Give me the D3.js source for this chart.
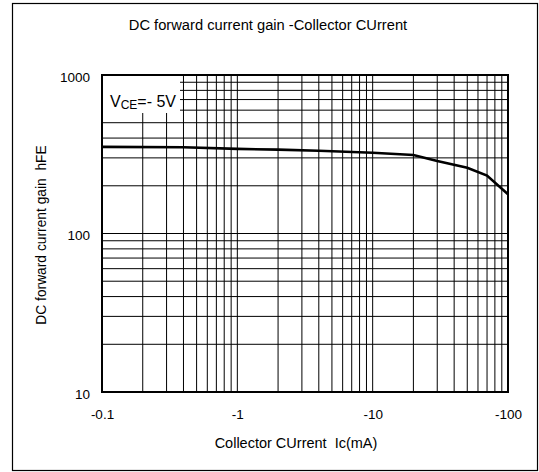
<!DOCTYPE html>
<html>
<head>
<meta charset="utf-8">
<script src="https://cdn.jsdelivr.net/npm/d3@7"></script>
<style>
  body { margin: 0; background: #fff; }
  text { font-family: "Liberation Sans", Arial, sans-serif; fill: #000; }
</style>
</head>
<body>
<svg width="539" height="472"></svg>
<script>
// curve (|Ic| in mA, hFE)
const currents = [0.1, 0.4, 1, 2, 4, 10, 20, 30, 50, 70, 100];
const gains = [352, 350, 342, 338, 333, 323, 313, 287, 260, 232, 177];

const xTicks = [0.1, 1, 10, 100];
const xTickLabels = ["-0.1", "-1", "-10", "-100"];
const yTicks = [10, 100, 1000];

const svg = d3.select("svg"),
    margin = { left: 102, right: 31, top: 75, bottom: 80 },
    width = +svg.attr("width"),
    height = +svg.attr("height");

// outer frame
svg.append("rect")
  .attr("x", 12.5).attr("y", 3.5)
  .attr("width", 525).attr("height", 467)
  .attr("fill", "none").attr("stroke", "#000").attr("stroke-width", 1.2);

const x = d3.scaleLog().domain([0.1, 100]).range([margin.left, width - margin.right]);
const y = d3.scaleLog().domain([10, 1000]).range([height - margin.bottom, margin.top]);

// minor positions 1..9 per decade
const xGrid = d3.range(-1, 2).flatMap(e => d3.range(1, 10).map(m => m * Math.pow(10, e)));
const yGrid = d3.range(1, 3).flatMap(e => d3.range(1, 10).map(m => m * Math.pow(10, e)));

const grid = svg.append("g").attr("stroke", "#000").attr("stroke-width", 1);
grid.selectAll(".vx").data(xGrid.slice(1)).enter().append("line")
  .attr("x1", d => x(d)).attr("x2", d => x(d))
  .attr("y1", y(10)).attr("y2", y(1000));
grid.selectAll(".hy").data(yGrid.slice(1)).enter().append("line")
  .attr("x1", x(0.1)).attr("x2", x(100))
  .attr("y1", d => y(d)).attr("y2", d => y(d));

// plot border
svg.append("rect")
  .attr("x", x(0.1)).attr("y", y(1000))
  .attr("width", x(100) - x(0.1)).attr("height", y(10) - y(1000))
  .attr("fill", "none").attr("stroke", "#000").attr("stroke-width", 2);

// curve
const line = d3.line()
  .x((d, i) => x(currents[i]))
  .y(d => y(d));
svg.append("path")
  .datum(gains)
  .attr("d", line)
  .attr("fill", "none")
  .attr("stroke", "#000")
  .attr("stroke-width", 2.6);

// VCE label box
svg.append("rect")
  .attr("x", x(0.1) + 1).attr("y", y(1000) + 1)
  .attr("width", 77).attr("height", 37)
  .attr("fill", "#fff");
const vce = svg.append("text")
  .attr("x", x(0.1) + 8).attr("y", y(1000) + 31.5)
  .attr("font-size", 16);
vce.append("tspan").text("V");
vce.append("tspan").attr("font-size", 12).attr("dy", 2).text("CE");
vce.append("tspan").attr("dy", -2).text("=- 5V");

// axes (labels only, lines come from the grid/border)
const xAxis = svg.append("g")
  .attr("transform", `translate(0,${y(10)})`)
  .call(d3.axisBottom(x).tickValues(xTicks)
    .tickFormat((d, i) => xTickLabels[i]).tickSize(0).tickPadding(17));
const yAxis = svg.append("g")
  .attr("transform", `translate(${x(0.1)},0)`)
  .call(d3.axisLeft(y).tickValues(yTicks)
    .tickFormat(d3.format("d")).tickSize(0).tickPadding(12));
[xAxis, yAxis].forEach(a => {
  a.select(".domain").remove();
  a.selectAll("text").attr("font-size", 13.5)
    .attr("font-family", "Liberation Sans, Arial, sans-serif");
});
yAxis.selectAll("text").attr("dy", "0.45em");

svg.append("text")
  .attr("x", 268).attr("y", 30)
  .attr("text-anchor", "middle").attr("font-size", 14.7)
  .text("DC forward current gain -Collector CUrrent");

svg.append("text")
  .attr("x", 296).attr("y", 448)
  .attr("text-anchor", "middle").attr("font-size", 14.5)
  .style("white-space", "pre")
  .text("Collector CUrrent  Ic(mA)");

svg.append("text")
  .attr("transform", "translate(46,235) rotate(-90)")
  .attr("text-anchor", "middle").attr("font-size", 13.8)
  .style("white-space", "pre")
  .text("DC forward current gain  hFE");
</script>
</body>
</html>
